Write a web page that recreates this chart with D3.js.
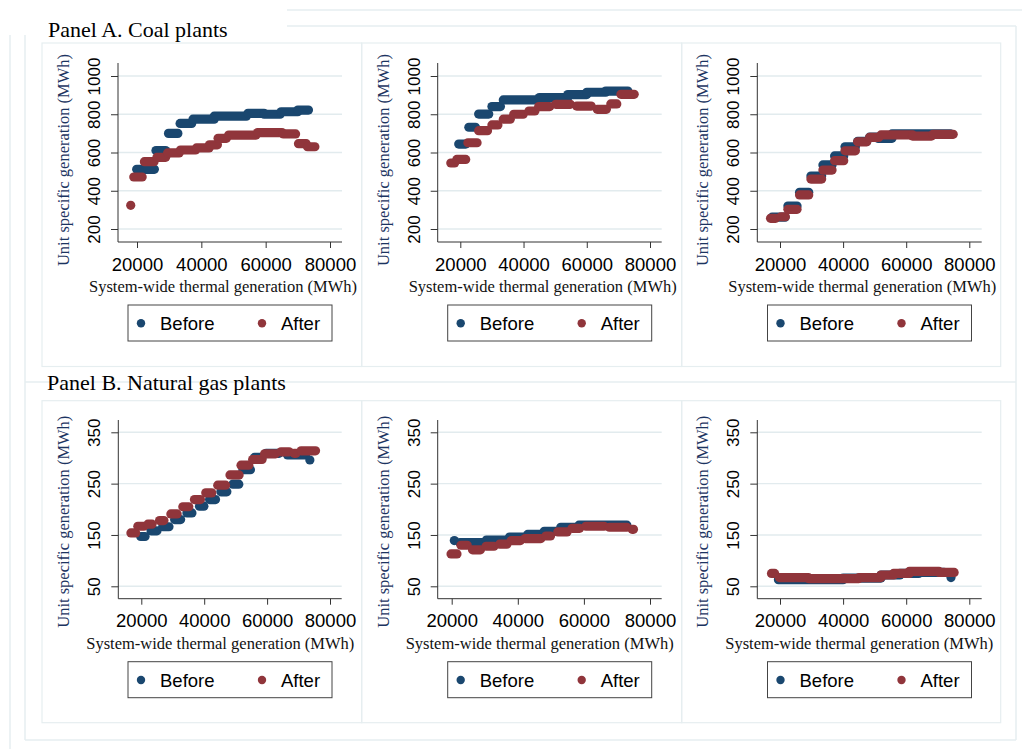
<!DOCTYPE html>
<html>
<head>
<meta charset="utf-8">
<script src="https://cdn.jsdelivr.net/npm/d3@7"></script>
<style>
  body { margin: 0; background: #fff; }
  svg { display: block; }
</style>
</head>
<body>
<svg id="fig" width="1022" height="749"></svg>
<script>
// series names and colours
const seriesNames = ['Before', 'After'];
const seriesColors = ['#1a476f', '#90353b'];

// tick labels
const xTicks = [20000, 40000, 60000, 80000];
const coalTicks = [200, 400, 600, 800, 1000];
const gasTicks = [50, 150, 250, 350];

// each row: [first MWh, last MWh, unit generation] - a run of dense markers at one level
const coalBefore1 = [
  [19900, 25400, 512], [25900, 28900, 610], [29800, 32700, 700], [33400, 37000, 752],
  [37400, 44000, 774], [44000, 54000, 790], [54500, 59500, 805], [59500, 64500, 800],
  [64800, 70000, 813], [70000, 73300, 822]
];
const coalAfter1 = [
  [18050, 18050, 324], [19000, 21600, 472], [22300, 25300, 552], [26200, 28900, 575],
  [29500, 33100, 598], [33500, 38200, 613], [38500, 42400, 624], [42500, 45000, 640],
  [45200, 47800, 674], [48500, 57000, 691], [57500, 65100, 704], [65500, 69300, 697],
  [70200, 72600, 646], [73000, 75300, 630]
];
const coalBefore2 = [
  [19500, 21700, 644], [22700, 24800, 732], [25800, 29000, 801], [30000, 32700, 840],
  [33600, 45000, 875], [45000, 54000, 887], [54000, 60000, 903], [60000, 66000, 915],
  [66000, 73000, 921]
];
const coalAfter2 = [
  [17000, 18200, 545], [18900, 21700, 564], [22400, 25300, 651], [25800, 28600, 714],
  [30000, 31900, 744], [33600, 35800, 774], [36900, 39900, 800], [41700, 43600, 817],
  [44800, 48300, 840], [50200, 54800, 852], [56800, 61400, 843], [63300, 66200, 826],
  [67600, 69500, 854], [70800, 75000, 904]
];
const coalBefore3 = [
  [17500, 21600, 262], [22500, 25400, 320], [26200, 29100, 392], [29800, 33200, 477],
  [33600, 36500, 535], [37300, 40200, 582], [40600, 43900, 630], [44600, 47500, 658],
  [48400, 51000, 680], [51000, 55500, 674], [55500, 74000, 697]
];
const coalAfter3 = [
  [17000, 18600, 256], [20300, 21700, 264], [22500, 25400, 303], [26200, 29100, 378],
  [29800, 33200, 461], [33600, 36500, 508], [37300, 40200, 557], [40600, 43900, 609],
  [44600, 47500, 656], [48400, 51300, 679], [52000, 62000, 692], [62000, 68000, 686],
  [68500, 74900, 695]
];
const gasBefore1 = [
  [19800, 21200, 147], [23100, 25000, 158], [26800, 28800, 166], [30600, 32500, 180],
  [34500, 36100, 193], [38500, 39900, 206], [41700, 43600, 219], [45300, 47200, 234],
  [49100, 51000, 249], [52300, 54700, 277], [56000, 58400, 301], [59700, 63800, 309],
  [66500, 72200, 306], [73600, 73600, 296]
];
const gasAfter1 = [
  [16700, 18200, 154], [18900, 20800, 167], [22100, 23400, 171], [25800, 27200, 178],
  [29400, 31400, 191], [33200, 35100, 205], [36900, 38800, 219], [40500, 42400, 232],
  [44300, 46800, 247], [48200, 51100, 267], [51700, 54200, 286], [55400, 58400, 297],
  [59200, 62700, 308], [64400, 67000, 312], [68600, 69200, 309], [70800, 75400, 314]
];
const gasBefore2 = [
  [20800, 20800, 139], [22500, 30500, 135], [30500, 37500, 140], [37500, 43000, 146],
  [43000, 48000, 151], [48000, 53000, 157], [53000, 58500, 165], [58500, 73000, 169]
];
const gasAfter2 = [
  [19800, 21600, 113], [22800, 24700, 130], [26300, 28700, 121], [30400, 32800, 128],
  [34500, 36700, 132], [38000, 40800, 139], [42200, 47000, 143], [48500, 49900, 148],
  [52100, 54900, 156], [56400, 58700, 163], [60600, 66100, 167], [67700, 73000, 165],
  [74600, 75000, 161]
];
const gasBefore3 = [
  [19500, 40000, 63], [40000, 52000, 66], [52000, 58000, 72], [58000, 64000, 75],
  [64000, 72000, 77], [74200, 74200, 67]
];
const gasAfter3 = [
  [17300, 18300, 75], [19800, 29000, 67], [29000, 45000, 65], [45000, 52000, 67],
  [52000, 56000, 72], [56000, 61000, 75], [61000, 70400, 79], [70400, 75200, 77]
];

const svg = d3.select('#fig');
const serif = '"Liberation Serif", "Times New Roman", serif';
const sans = '"Liberation Sans", Arial, sans-serif';
const faint = '#e6eef0';

// faint page / panel frames
const frames = [
  [287, 10, 1022, 10], [287, 26, 1016, 26], [1016, 26, 1016, 740],
  [10, 35, 10, 749], [25, 35, 25, 740], [25, 740, 1016, 740], [25, 382, 1016, 382]
];
svg.selectAll('.frame')
  .data(frames)
  .enter().append('line')
  .attr('x1', d => d[0]).attr('y1', d => d[1])
  .attr('x2', d => d[2]).attr('y2', d => d[3])
  .attr('stroke', faint)
  .attr('stroke-width', 1.5);

const boxes = [
  [42, 43, 361.7, 366.5], [361.7, 43, 681.7, 366.5], [681.7, 43, 1000.7, 366.5],
  [42, 400.7, 361.7, 722.7], [361.7, 400.7, 681.7, 722.7], [681.7, 400.7, 1000.7, 722.7]
];
svg.selectAll('.box')
  .data(boxes)
  .enter().append('rect')
  .attr('x', d => d[0]).attr('y', d => d[1])
  .attr('width', d => d[2] - d[0]).attr('height', d => d[3] - d[1])
  .attr('fill', 'none')
  .attr('stroke', faint)
  .attr('stroke-width', 1.2);

// panel titles
svg.append('text').attr('x', 48).attr('y', 36.7)
  .style('font-family', serif).style('font-size', '22px').attr('fill', '#000')
  .text('Panel A. Coal plants');
svg.append('text').attr('x', 47).attr('y', 390)
  .style('font-family', serif).style('font-size', '22px').attr('fill', '#000')
  .text('Panel B. Natural gas plants');

const rowA = { top: 63, bottom: 242, domain: [200, 1000], range: [229, 76], ticks: coalTicks, titleY: 160, xTitleOff: 105 };
const rowB = { top: 420, bottom: 598.7, domain: [50, 350], range: [586.3, 432.3], ticks: gasTicks, titleY: 521.7, xTitleOff: 102 };

const graphs = [
  { row: rowA, left: 118, right: 342, x20: 137, x80: 330, series: [coalBefore1, coalAfter1] },
  { row: rowA, left: 437.7, right: 661.7, x20: 460.3, x80: 650, series: [coalBefore2, coalAfter2] },
  { row: rowA, left: 757.3, right: 981.7, x20: 780, x80: 969.3, series: [coalBefore3, coalAfter3] },
  { row: rowB, left: 118.3, right: 341.7, x20: 141.3, x80: 330, series: [gasBefore1, gasAfter1] },
  { row: rowB, left: 437.7, right: 661.7, x20: 451.7, x80: 650, series: [gasBefore2, gasAfter2] },
  { row: rowB, left: 757.3, right: 981.7, x20: 780, x80: 969.3, series: [gasBefore3, gasAfter3] }
];

const R = 4.6; // marker radius

function drawGraph(spec) {
  const row = spec.row;
  const x = d3.scaleLinear().domain([20000, 80000]).range([spec.x20, spec.x80]);
  const y = d3.scaleLinear().domain(row.domain).range(row.range);
  const g = svg.append('g');

  // gridlines
  g.selectAll('.grid')
    .data(row.ticks)
    .enter().append('line')
    .attr('x1', spec.left).attr('x2', spec.right)
    .attr('y1', d => y(d)).attr('y2', d => y(d))
    .attr('stroke', '#e2ebee')
    .attr('stroke-width', 1.4);

  // markers, Before first then After on top
  spec.series.forEach((runs, i) => {
    g.append('g').selectAll('rect')
      .data(runs)
      .enter().append('rect')
      .attr('x', d => x(d[0]) - R)
      .attr('width', d => x(d[1]) - x(d[0]) + 2 * R)
      .attr('y', d => y(d[2]) - R)
      .attr('height', 2 * R)
      .attr('rx', R)
      .attr('fill', seriesColors[i]);
  });

  // y axis
  const yAxis = g.append('g')
    .attr('transform', 'translate(' + spec.left + ',0)')
    .call(d3.axisLeft(y).tickValues(row.ticks).tickSize(7).tickSizeOuter(0).tickFormat(d3.format('d')));
  yAxis.select('.domain').remove();
  yAxis.selectAll('line').attr('stroke', '#333');
  yAxis.selectAll('text')
    .attr('transform', 'rotate(-90)')
    .attr('x', 0).attr('y', -18).attr('dy', 0)
    .attr('text-anchor', 'middle')
    .attr('fill', '#000')
    .style('font-family', sans).style('font-size', '17px');

  // x axis
  const xAxis = g.append('g')
    .attr('transform', 'translate(0,' + row.bottom + ')')
    .call(d3.axisBottom(x).tickValues(xTicks).tickSize(6).tickSizeOuter(0).tickFormat(d3.format('d')));
  xAxis.select('.domain').remove();
  xAxis.selectAll('line').attr('stroke', '#333');
  xAxis.selectAll('text')
    .attr('y', 28.7).attr('dy', 0)
    .attr('fill', '#000')
    .style('font-family', sans).style('font-size', '18.5px');

  // axis lines
  g.append('line')
    .attr('x1', spec.left).attr('x2', spec.left)
    .attr('y1', row.top).attr('y2', row.bottom)
    .attr('stroke', '#333');
  g.append('line')
    .attr('x1', spec.left).attr('x2', spec.right)
    .attr('y1', row.bottom).attr('y2', row.bottom)
    .attr('stroke', '#333');

  // axis titles
  g.append('text')
    .attr('transform', 'translate(' + (spec.left - 49) + ',' + row.titleY + ') rotate(-90)')
    .attr('text-anchor', 'middle')
    .attr('fill', '#1c3461')
    .style('font-family', serif).style('font-size', '16.5px')
    .text('Unit specific generation (MWh)');
  g.append('text')
    .attr('x', spec.left + row.xTitleOff).attr('y', row.bottom + 50)
    .attr('text-anchor', 'middle')
    .attr('fill', '#111')
    .style('font-family', serif).style('font-size', '16.5px')
    .text('System-wide thermal generation (MWh)');

  // legend
  const lx = (spec.left + spec.right) / 2 - 102;
  const ly = row.bottom + 63;
  const leg = g.append('g').attr('transform', 'translate(' + lx + ',' + ly + ')');
  leg.append('rect')
    .attr('width', 204).attr('height', 36)
    .attr('fill', '#fff').attr('stroke', '#444').attr('stroke-width', 1);
  const items = leg.selectAll('.item')
    .data(seriesNames)
    .enter().append('g')
    .attr('transform', (d, i) => 'translate(' + (i === 0 ? 13 : 134) + ',0)');
  items.append('circle')
    .attr('cx', 0).attr('cy', 18.3).attr('r', 4.2)
    .attr('fill', (d, i) => seriesColors[i]);
  items.append('text')
    .attr('x', 19).attr('y', 25)
    .attr('fill', '#000')
    .style('font-family', sans).style('font-size', '18.5px')
    .text(d => d);
}

graphs.forEach(drawGraph);
</script>
</body>
</html>
